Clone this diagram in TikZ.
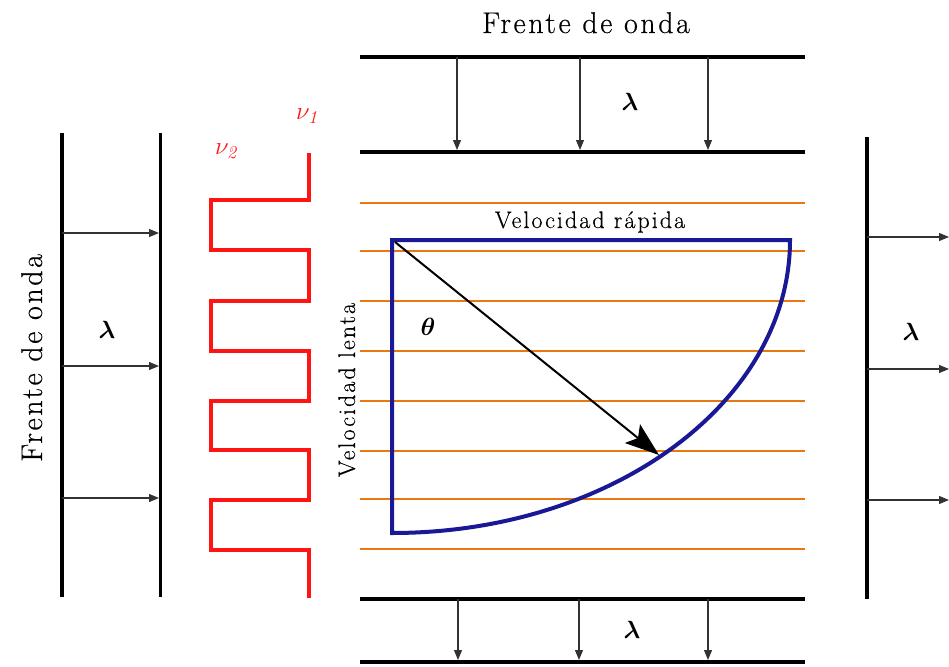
\documentclass[tikz,border=0pt]{standalone}
\usepackage{fontspec}
\usepackage{bm}
\newfontfamily\spacedA[LetterSpace=8.5,FakeBold=0.4]{Latin Modern Roman}
\newfontfamily\spacedB[LetterSpace=8.5,FakeBold=0.4]{Latin Modern Roman}
\usetikzlibrary{arrows.meta}
\definecolor{wblue}{RGB}{25,25,150}
\definecolor{worange}{RGB}{232,120,15}
\definecolor{wred}{RGB}{255,20,20}
\definecolor{wgray}{RGB}{50,50,50}
\tikzset{
  front/.style={line width=4.5pt, black},
  frontthin/.style={line width=3pt, black},
  prop/.style={line width=1.1pt, wgray, -{Triangle[length=10pt,width=8pt]}},
  layer/.style={line width=2.6pt, worange},
  lam/.style={font=\fontsize{23}{25}\selectfont, inner sep=0pt},
  bigtext/.style={font=\fontsize{30}{32}\selectfont\spacedA, inner sep=0pt, anchor=base},
  midtext/.style={font=\fontsize{24}{26}\selectfont\spacedB, inner sep=0pt, anchor=base},
  nulab/.style={font=\fontsize{26}{28}\selectfont, text=wred, inner sep=0pt}
}
\begin{document}
\begin{tikzpicture}[x=1pt,y=-1pt]
\useasboundingbox (0,0) rectangle (949,666);
% ---------- left wavefront ----------
\draw[front] (62,133) -- (62,597);
\draw[frontthin] (160,133) -- (160,597);
\foreach \yy/\nm in {233/la,366/lb,498/lc}{
  \coordinate (\nm s) at (62,\yy);
  \coordinate (\nm e) at (159,\yy);
  \draw[prop] (\nm s) -- (\nm e);
}
\node[lam] (lamL) at (107,330) {$\bm{\lambda}$};
\node[bigtext, rotate=90] (frenteL) at (42,358) {Frente de onda};
% ---------- red square wave ----------
\draw[line width=4pt, wred, line join=miter]
  (309,153) -- (309,200) -- (211,200) -- (211,250) -- (309,250) -- (309,301)
  -- (211,301) -- (211,351) -- (309,351) -- (309,401) -- (211,401) -- (211,450)
  -- (309,450) -- (309,500) -- (211,500) -- (211,550) -- (309,550) -- (309,598);
\node[nulab] (nu1) at (307,116) {$\nu_{\mathit{1}}$};
\node[nulab] (nu2) at (226,151) {$\nu_{\mathit{2}}$};
% ---------- top wavefront ----------
\node[bigtext] (frenteT) at (586,33) {Frente de onda};
\draw[front] (360,57) -- (805,57);
\draw[front] (360,152) -- (805,152);
\foreach \xx/\nm in {457/ta,580/tb,708/tc}{
  \coordinate (\nm s) at (\xx,57);
  \coordinate (\nm e) at (\xx,150);
  \draw[prop] (\nm s) -- (\nm e);
}
\node[lam] (lamT) at (630,102) {$\bm{\lambda}$};
% ---------- orange layers ----------
\foreach \yy in {203,251,301,351,401,451,499,549}{
  \draw[layer] (360,\yy) -- (805,\yy);
}
% ---------- blue index ellipse ----------
\draw[line width=4pt, wblue, line join=miter]
  (392,533) -- (392,240) -- (790,240)
  .. controls (790,401.8) and (611.8,533) .. (392,533) -- cycle;
\coordinate (kstart) at (395,242);
\coordinate (kend) at (659,455);
\draw[line width=2pt, -{Stealth[length=34pt,width=24pt,inset=7pt]}] (kstart) -- (kend);
\node[font=\fontsize{27}{29}\selectfont, inner sep=0pt] (theta) at (428,327) {$\bm{\theta}$};
\node[midtext] (vrap) at (590,228) {Velocidad rápida};
\node[midtext, rotate=90] (vlen) at (355,390) {Velocidad lenta};
% ---------- bottom wavefront ----------
\draw[front] (360,599) -- (805,599);
\draw[front] (360,662) -- (805,662);
\foreach \xx/\nm in {458/ba,579/bb,708/bc}{
  \coordinate (\nm s) at (\xx,599);
  \coordinate (\nm e) at (\xx,660);
  \draw[prop] (\nm s) -- (\nm e);
}
\node[lam] (lamB) at (632,630) {$\bm{\lambda}$};
% ---------- right wavefront ----------
\draw[front] (867,137) -- (867,599);
\foreach \yy/\nm in {237/ra,369/rb,500/rc}{
  \coordinate (\nm s) at (867,\yy);
  \coordinate (\nm e) at (949,\yy);
  \draw[prop] (\nm s) -- (\nm e);
}
\node[lam] (lamR) at (911,332) {$\bm{\lambda}$};
\end{tikzpicture}
\end{document}
